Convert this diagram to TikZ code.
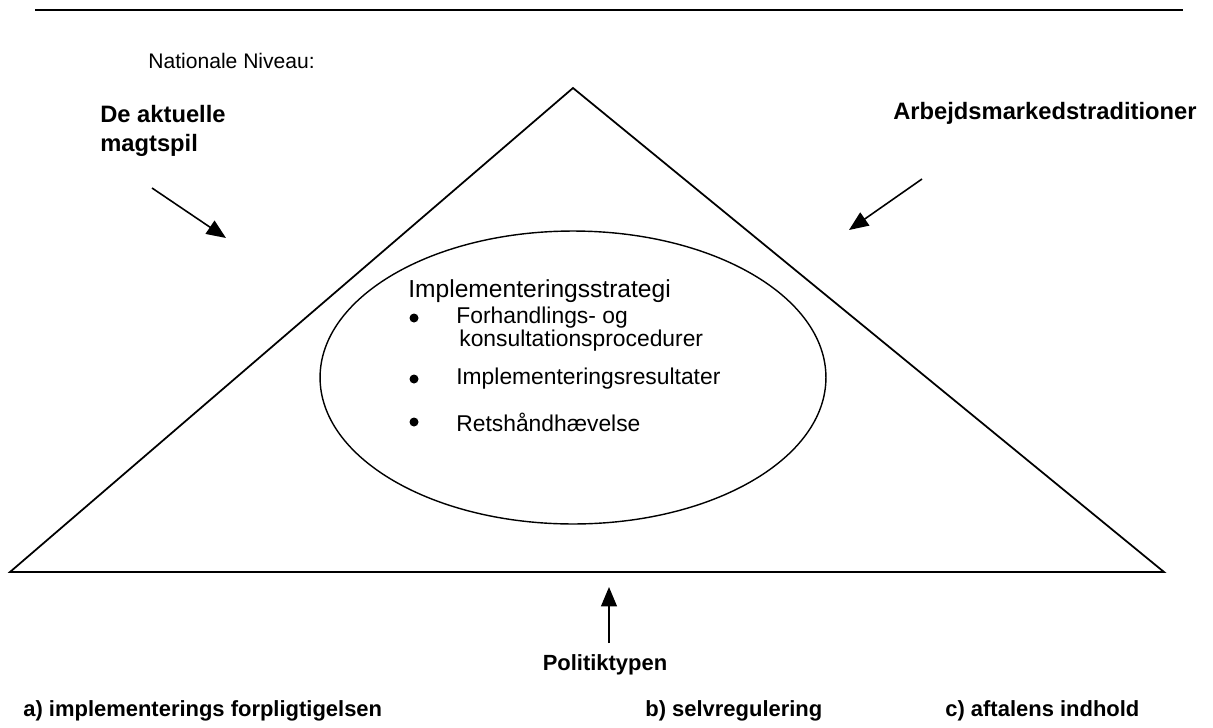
\documentclass[tikz,border=0pt]{standalone}
\usepackage{fontspec}
\setmainfont{Liberation Sans}
\usetikzlibrary{shapes.geometric}
\usetikzlibrary{positioning}
\usetikzlibrary{arrows.meta}
\tikzset{
    plaintext/.style = {inner sep=0pt, anchor=west, font=\fontsize{12}{14}\selectfont},
    headtext/.style = {inner sep=0pt, anchor=west, font=\fontsize{14}{16}\selectfont},
    itemtext/.style = {inner sep=0pt, anchor=west, font=\fontsize{13}{15}\selectfont},
    dotmark/.style = {circle, fill=black, inner sep=0pt, minimum size=0.18cm},
    bolltext/.style = {inner sep=0pt, anchor=west, align=left, font=\bfseries\fontsize{13.5}{16.5}\selectfont},
    lowtext/.style = {inner sep=0pt, anchor=west, font=\bfseries\fontsize{12.5}{15}\selectfont},
    oval/.style = {ellipse, draw=black, line width=0.8pt, inner sep=0pt, minimum width=10.12cm, minimum height=5.86cm},
    side/.style = {draw=black, line width=1pt, line join=miter},
    rule/.style = {draw=black, line width=1.5pt},
    edgen/.style = {-{Triangle[length=11pt,width=9pt]}, line width=0.9pt},
}

\begin{document}
\begin{tikzpicture}[x=0.02cm,y=-0.02cm]
\path[use as bounding box] (0,0) rectangle (1213,727);
%
\coordinate (rl) at (35,10);
\coordinate (rr) at (1183,10);
\draw[rule] (rl) -- (rr);
\node[plaintext] at (148,61) (niveau) {Nationale Niveau:};
%
\coordinate (top) at (573,88);
\coordinate (bl) at (10,572);
\coordinate (br) at (1164,572);
\draw[side] (top) -- (bl) -- (br) -- cycle;
\node[oval] at (573,377.5) (strat) {};
%
\node[headtext] at (408,291) (head) {Implementeringsstrategi};
\node[dotmark] at (414,318) (b1) {};
\node[itemtext] at (456,318) (i1) {Forhandlings- og};
\node[itemtext] at (459,341) (i1b) {konsultationsprocedurer};
\node[dotmark] at (414,379) (b2) {};
\node[itemtext] at (456,379) (i2) {Implementeringsresultater};
\node[dotmark] at (414,422) (b3) {};
\node[itemtext] at (456,422) (i3) {Retshåndhævelse};
%
\node[bolltext] at (100,131) (magt) {De aktuelle\\magtspil};
\node[bolltext] at (893,113) (trad) {Arbejdsmarkedstraditioner};
\coordinate (ma) at (152,188);
\coordinate (mb) at (226,238);
\coordinate (ta) at (922,179);
\coordinate (tb) at (849,230);
\draw[edgen] (ma) -- (mb);
\draw[edgen] (ta) -- (tb);
%
\coordinate (pa) at (609,643);
\coordinate (pb) at (609,587);
\draw[edgen] (pa) -- (pb);
\node[lowtext,anchor=center] at (605,665) (pol) {Politiktypen};
%
\node[lowtext] at (23,711) (ta1) {a) implementerings forpligtigelsen};
\node[lowtext] at (645,711) (tb1) {b) selvregulering};
\node[lowtext] at (945,711) (tc1) {c) aftalens indhold};

\end{tikzpicture}
\end{document}
